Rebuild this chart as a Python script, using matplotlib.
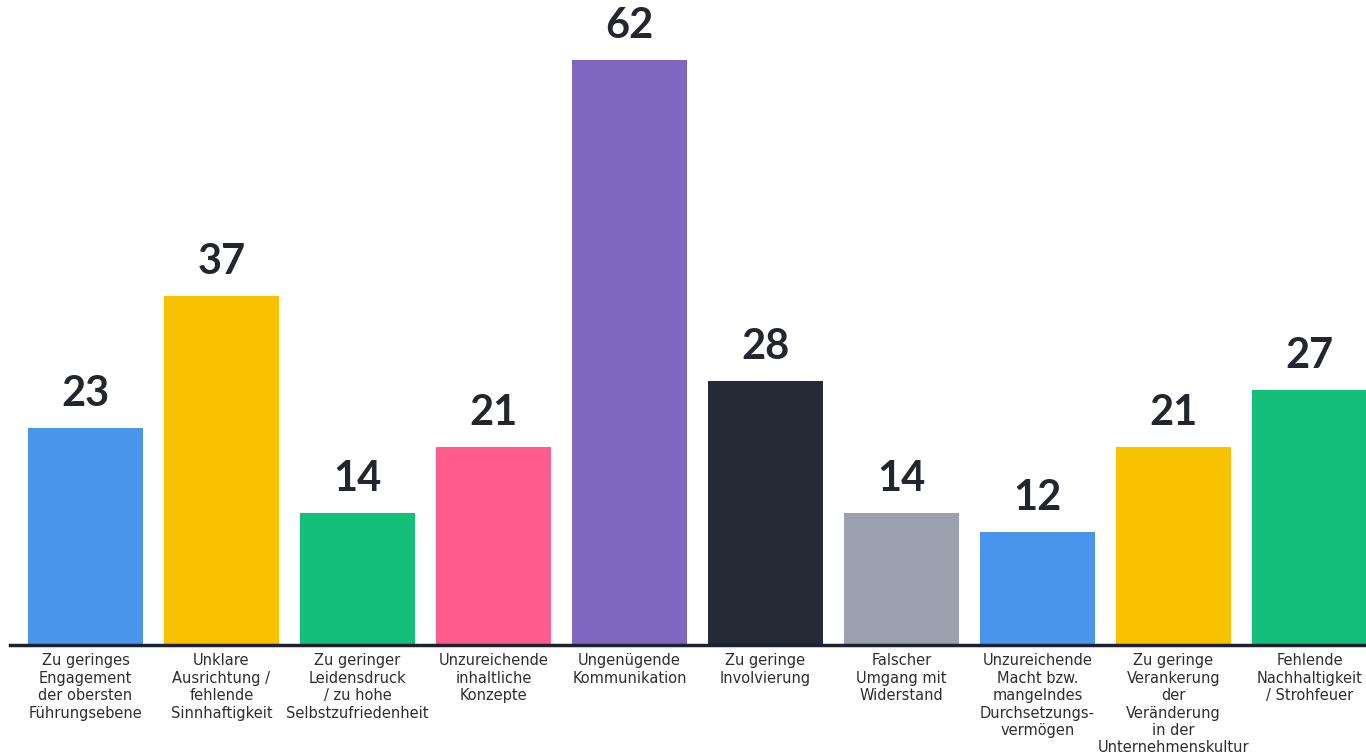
import matplotlib.pyplot as plt
import numpy as np

categories = [
    "Zu geringes\nEngagement\nder obersten\nFührungsebene",
    "Unklare\nAusrichtung /\nfehlende\nSinnhaftigkeit",
    "Zu geringer\nLeidensdruck\n/ zu hohe\nSelbstzufriedenheit",
    "Unzureichende\ninhaltliche\nKonzepte",
    "Ungenügende\nKommunikation",
    "Zu geringe\nInvolvierung",
    "Falscher\nUmgang mit\nWiderstand",
    "Unzureichende\nMacht bzw.\nmangelndes\nDurchsetzungs-\nvermögen",
    "Zu geringe\nVerankerung\nder\nVeränderung\nin der\nUnternehmenskultur",
    "Fehlende\nNachhaltigkeit\n/ Strohfeuer",
]
values = [23, 37, 14, 21, 62, 28, 14, 12, 21, 27]
colors = ["#4A95EC", "#F8C200", "#14BF7A", "#FF5B8D", "#7F66BE",
          "#252A37", "#9BA0AE", "#4A95EC", "#F8C200", "#14BF7A"]

plt.rcParams['font.family'] = ['Lato', 'DejaVu Sans']

fig = plt.figure(figsize=(13.66, 7.54), dpi=100)
ax = fig.add_axes([10/1366, 109/754, 1 - 10/1366, 645/754])

x = np.arange(len(values))
ax.bar(x, values, width=0.846, color=colors)

for xi, v in zip(x, values):
    ax.annotate(str(v), (xi, v), xytext=(0, 11), textcoords="offset points",
                ha="center", va="bottom", fontsize=30, fontweight="bold",
                color="#23262F")

ax.set_xlim(-0.555, 9.415)
ax.set_ylim(0, 645/9.435)

ax.set_xticks(x)
ax.set_xticklabels(categories, fontsize=10.5, color="#2E2E2E",
                   linespacing=1.2, family="DejaVu Sans")
ax.tick_params(axis="x", length=0, pad=6)
ax.set_yticks([])

for s in ["top", "right", "left"]:
    ax.spines[s].set_visible(False)
ax.spines["bottom"].set_linewidth(2.5)
ax.spines["bottom"].set_color("#1E2230")

fig.savefig("out.png", dpi=100)
